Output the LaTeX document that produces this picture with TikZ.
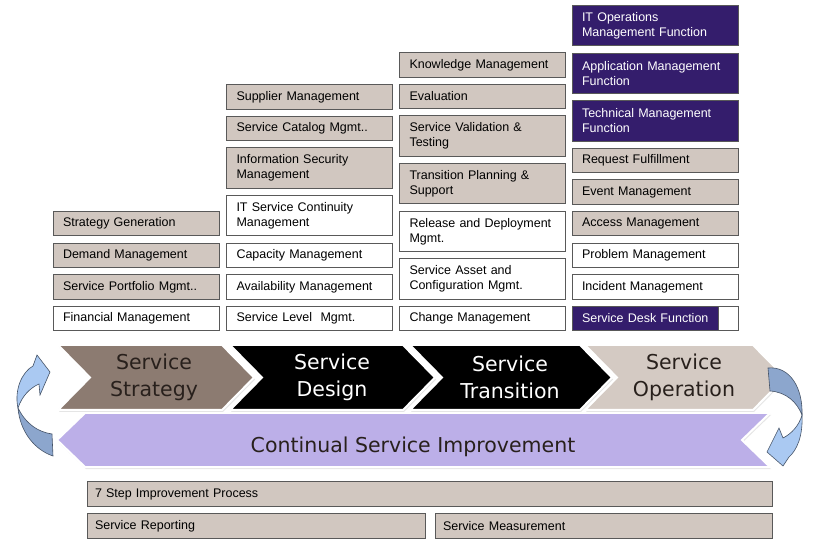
\documentclass[tikz,border=0pt]{standalone}
\usepackage{fontspec}
\setmainfont{Liberation Sans}
\newfontfamily\phasefont{DejaVu Sans}
\usetikzlibrary{positioning,shadows}
\definecolor{boxtan}{RGB}{209,199,192}
\definecolor{fnnavy}{RGB}{52,29,108}
\definecolor{stratfill}{RGB}{140,123,113}
\definecolor{operfill}{RGB}{212,202,195}
\definecolor{csifill}{RGB}{188,175,232}
\definecolor{phasedark}{RGB}{40,32,28}
\definecolor{arrowlight}{RGB}{170,201,242}
\definecolor{arrowdark}{RGB}{140,166,205}
\definecolor{arrowline}{RGB}{70,84,104}

\begin{document}
\begin{tikzpicture}
  [x=1pt,y=-1pt,node distance=6.2pt,
  task/.style={rectangle,draw=black!65,line width=0.9pt,fill=white,
    minimum width=166pt,minimum height=24.5pt,inner xsep=10pt,inner ysep=0pt,
    text width=146pt,align=left,font=\fontsize{12.5}{15}\selectfont},
  tanbox/.style={task,fill=boxtan},
  fnbox/.style={task,fill=fnnavy,text=white},
  tall/.style={minimum height=40.5pt},
  phase/.style={draw=white,line width=2pt,
    drop shadow={opacity=0.2,shadow xshift=1pt,shadow yshift=-2pt}},
  phasetext/.style={font=\phasefont\fontsize{20.5}{27}\selectfont,align=center},
  arrowfront/.style={fill=arrowlight,draw=arrowline,line width=0.6pt},
  arrowback/.style={fill=arrowdark,draw=arrowline,line width=0.6pt}]
  \useasboundingbox[fill=white] (0,0) rectangle (823,548);

  \node[task] (finance) at (136,318.5) {Financial Management};
  \node[tanbox] (portfolio) [above=of finance] {Service Portfolio Mgmt..};
  \node[tanbox] (demand) [above=of portfolio] {Demand Management};
  \node[tanbox] (stratgen) [above=of demand] {Strategy Generation};

  \node[task] (level) at (309.5,318.5) {Service Level\ \ Mgmt.};
  \node[task] (availability) [above=of level] {Availability Management};
  \node[task] (capacity) [above=of availability] {Capacity Management};
  \node[task,tall] (continuity) [above=of capacity] {IT Service Continuity\\Management};
  \node[tanbox,tall] (infosec) [above=of continuity] {Information Security\\Management};
  \node[tanbox] (catalog) [above=of infosec] {Service Catalog Mgmt..};
  \node[tanbox] (supplier) [above=of catalog] {Supplier Management};

  \node[task] (change) at (482.5,318.5) {Change Management};
  \node[task,tall] (asset) [above=of change] {Service Asset and\\Configuration Mgmt.};
  \node[task,tall] (release) [above=of asset] {Release and Deployment\\Mgmt.};
  \node[tanbox,tall] (planning) [above=of release] {Transition Planning \&\\Support};
  \node[tanbox,tall] (validation) [above=of planning] {Service Validation \&\\Testing};
  \node[tanbox] (evaluation) [above=of validation] {Evaluation};
  \node[tanbox] (knowledge) [above=of evaluation] {Knowledge Management};

  \node[fnbox] (desk) at (655,318.5) {Service Desk Function};
  \node[rectangle,draw=black!65,line width=0.9pt,fill=white,minimum width=20pt,
    minimum height=24.5pt,anchor=east] (deskend) at (desk.east) {};
  \node[task] (incident) [above=of desk] {Incident Management};
  \node[task] (problem) [above=of incident] {Problem Management};
  \node[tanbox] (access) [above=of problem] {Access Management};
  \node[tanbox] (event) [above=of access] {Event Management};
  \node[tanbox] (request) [above=of event] {Request Fulfillment};
  \node[fnbox,tall] (techmgmt) [above=of request] {Technical Management\\Function};
  \node[fnbox,tall] (appmgmt) [above=of techmgmt] {Application Management\\Function};
  \node[fnbox,tall] (itops) [above=of appmgmt] {IT Operations\\Management Function};

  \filldraw[phase,fill=csifill] (85,413) -- (770,413) -- (742,440) -- (770,467)
    -- (85,467) -- (57,440) -- cycle;
  \filldraw[phase,fill=stratfill] (58,345) -- (222,345) -- (254,377.5) -- (222,410)
    -- (58,410) -- (90,377.5) -- cycle;
  \filldraw[phase,fill=black] (230,345) -- (403,345) -- (435,377.5) -- (403,410)
    -- (230,410) -- (262,377.5) -- cycle;
  \filldraw[phase,fill=black] (410,345) -- (580,345) -- (612,377.5) -- (580,410)
    -- (410,410) -- (442,377.5) -- cycle;
  \filldraw[phase,fill=operfill] (585,345) -- (753,345) -- (785,377.5) -- (753,410)
    -- (585,410) -- (617,377.5) -- cycle;

  \node[phasetext,text=phasedark] (strategy) at (154,377.5) {Service\\Strategy};
  \node[phasetext,text=white] (design) at (332,377.5) {Service\\Design};
  \node[phasetext,text=white] (transition) at (510,377.5) {Service\\Transition};
  \node[phasetext,text=phasedark] (operation) at (684,377.5) {Service\\Operation};
  \node[phasetext,text=phasedark] (csi) at (413,447) {Continual Service Improvement};

  \filldraw[arrowback] (18,408) .. controls (20,432) and (35,450) .. (53,456)
    -- (52,434) .. controls (38,432) and (26,424) .. (18,408) -- cycle;
  \filldraw[arrowfront] (18,408) .. controls (14,390) and (22,372) .. (33,366)
    -- (37,355) -- (50,372) -- (40,395) -- (39,384)
    .. controls (30,388) and (22,396) .. (18,408) -- cycle;
  \filldraw[arrowback] (768,368) .. controls (790,366) and (803,388) .. (802,415)
    .. controls (797,402) and (786,392) .. (770,391) -- cycle;
  \filldraw[arrowfront] (802,415) .. controls (803,436) and (797,450) .. (789,457)
    -- (783,466) -- (767,452) -- (779,428) -- (783,438)
    .. controls (791,434) and (799,426) .. (802,415) -- cycle;

  \node[tanbox,minimum width=685pt,text width=669pt,inner xsep=8pt] (steps)
    at (429.5,494) {7 Step Improvement Process};
  \node[tanbox,minimum width=338pt,text width=322pt,inner xsep=8pt] (reporting)
    at (256,526) {Service Reporting};
  \node[tanbox,minimum width=337pt,text width=321pt,inner xsep=8pt] (measurement)
    at (603.5,526) {Service Measurement};
\end{tikzpicture}
\end{document}
